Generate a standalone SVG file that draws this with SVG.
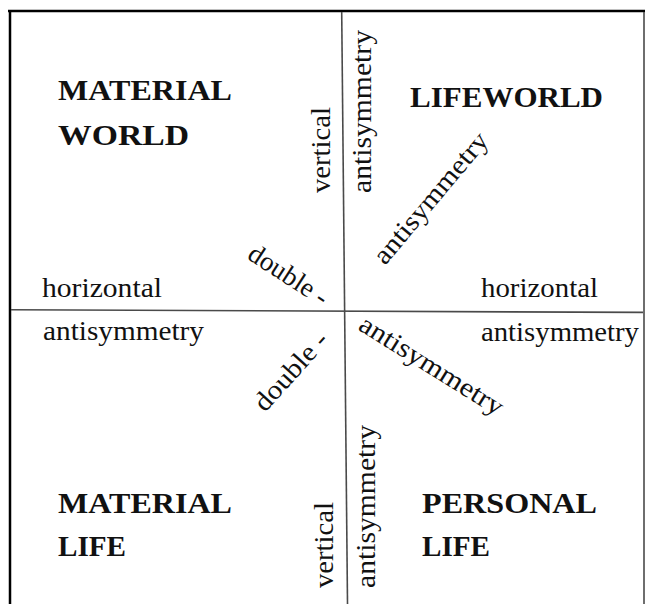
<svg xmlns="http://www.w3.org/2000/svg" width="645" height="604" viewBox="0 0 645 604">
<style>
.t{font-family:"Liberation Serif","Times New Roman",serif;font-size:27px;fill:#111}
.b{font-weight:bold;font-size:29px}
.frame{stroke:#000;stroke-width:2.5;fill:none}
.div{stroke:#4a4a4a;stroke-width:1.6;fill:none}
</style>
<rect width="645" height="604" fill="#fff"/>
<g id="frame">
<line class="frame" x1="8" y1="11" x2="645" y2="11"/>
<line class="frame" x1="10" y1="10" x2="10" y2="604"/>
<line class="div" x1="644" y1="12" x2="644" y2="604"/>
</g>
<g id="connectors">
<line class="div" x1="341.7" y1="12" x2="347.5" y2="604"/>
<line class="div" x1="11" y1="309.8" x2="643" y2="312.4"/>
</g>
<g id="material-world">
<text class="t b" x="58" y="100" textLength="174" lengthAdjust="spacingAndGlyphs">MATERIAL</text>
<text class="t b" x="58" y="145" textLength="131" lengthAdjust="spacingAndGlyphs">WORLD</text>
<text class="t" transform="translate(330,193) rotate(-90)" textLength="86" lengthAdjust="spacingAndGlyphs">vertical</text>
<text class="t" transform="translate(246,258) rotate(33)" textLength="90" lengthAdjust="spacingAndGlyphs">double -</text>
<text class="t" x="42" y="297" textLength="120" lengthAdjust="spacingAndGlyphs">horizontal</text>
</g>
<g id="lifeworld">
<text class="t b" x="410" y="107" textLength="193" lengthAdjust="spacingAndGlyphs">LIFEWORLD</text>
<text class="t" transform="translate(371,193) rotate(-90)" textLength="163" lengthAdjust="spacingAndGlyphs">antisymmetry</text>
<text class="t" transform="translate(385,266) rotate(-50)" textLength="163" lengthAdjust="spacingAndGlyphs">antisymmetry</text>
<text class="t" x="481" y="297" textLength="117" lengthAdjust="spacingAndGlyphs">horizontal</text>
</g>
<g id="material-life">
<text class="t" x="43" y="340" textLength="161" lengthAdjust="spacingAndGlyphs">antisymmetry</text>
<text class="t" transform="translate(265,413) rotate(-48)" textLength="97" lengthAdjust="spacingAndGlyphs">double -</text>
<text class="t b" x="58" y="513" textLength="174" lengthAdjust="spacingAndGlyphs">MATERIAL</text>
<text class="t b" x="58" y="556" textLength="68" lengthAdjust="spacingAndGlyphs">LIFE</text>
<text class="t" transform="translate(333,588) rotate(-90)" textLength="86" lengthAdjust="spacingAndGlyphs">vertical</text>
</g>
<g id="personal-life">
<text class="t" x="481" y="341" textLength="158" lengthAdjust="spacingAndGlyphs">antisymmetry</text>
<text class="t" transform="translate(357,329) rotate(32)" textLength="165" lengthAdjust="spacingAndGlyphs">antisymmetry</text>
<text class="t b" x="422" y="513" textLength="175" lengthAdjust="spacingAndGlyphs">PERSONAL</text>
<text class="t b" x="422" y="556" textLength="68" lengthAdjust="spacingAndGlyphs">LIFE</text>
<text class="t" transform="translate(375,588) rotate(-90)" textLength="163" lengthAdjust="spacingAndGlyphs">antisymmetry</text>
</g>
</svg>
